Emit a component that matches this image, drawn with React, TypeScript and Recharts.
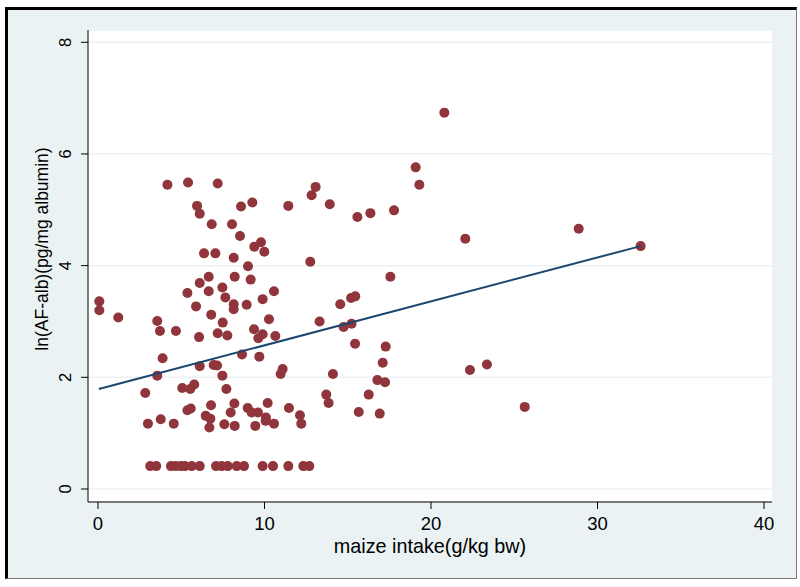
import { ScatterChart, Scatter, XAxis, YAxis, CartesianGrid } from "recharts"

// maize intake (g/kg bw)
const maizeIntake = [
  4.17, 5.41, 7.19, 5.95, 6.11, 8.59, 9.27, 11.43, 6.83, 8.05,
  8.53, 9.79, 9.39, 9.99, 6.37, 7.05, 8.15, 9.01, 6.65, 8.21,
  9.17, 6.11, 7.47, 6.65, 5.37, 10.57, 7.65, 9.89, 8.15, 8.15,
  8.93, 5.89, 0.08, 0.08, 1.22, 6.8, 10.27, 7.49, 3.56, 3.72,
  4.68, 6.07, 7.19, 7.77, 9.37, 9.89, 9.63, 10.65,
  3.88, 3.56, 6.11, 6.95, 7.15, 7.47, 8.65, 9.69, 10.97, 11.09,
  2.84, 5.06, 5.54, 5.78, 7.71, 6.79, 8.19, 10.19, 5.37, 5.57,
  3.77, 3.0, 4.55, 6.47, 6.75, 6.69, 7.97, 7.59, 8.21, 8.99,
  9.23, 9.61, 10.09, 10.07, 9.45, 10.57, 11.47,
  3.14, 3.5, 4.38, 4.67, 4.98, 5.23, 5.63, 6.11, 7.09, 7.43,
  7.79, 8.33, 8.77, 9.89, 10.51, 11.43, 12.33, 12.69,
  13.07, 12.83, 13.92, 15.58, 16.36, 17.78, 12.75, 17.56, 15.2, 15.45,
  14.55, 13.31, 14.75, 15.23, 15.44, 17.28, 17.1, 14.11, 16.78, 17.24,
  16.26, 13.71, 13.85, 15.66, 16.92, 12.13, 12.21,
  19.08, 19.3, 20.8, 22.06, 28.87, 32.59, 22.34, 23.36, 25.63,
]

// ln(AF-alb) (pg/mg albumin)
const lnAfAlb = [
  5.45, 5.49, 5.47, 5.07, 4.93, 5.06, 5.13, 5.07, 4.74, 4.74,
  4.53, 4.42, 4.34, 4.25, 4.22, 4.22, 4.14, 3.99, 3.8, 3.8,
  3.75, 3.69, 3.61, 3.54, 3.51, 3.54, 3.43, 3.4, 3.31, 3.22,
  3.3, 3.27, 3.36, 3.2, 3.07, 3.12, 3.04, 2.98, 3.01, 2.83,
  2.83, 2.72, 2.79, 2.75, 2.86, 2.77, 2.7, 2.74,
  2.34, 2.03, 2.2, 2.22, 2.21, 2.03, 2.41, 2.37, 2.06, 2.15,
  1.72, 1.81, 1.79, 1.87, 1.79, 1.5, 1.53, 1.54, 1.41, 1.44,
  1.25, 1.17, 1.17, 1.31, 1.26, 1.1, 1.37, 1.16, 1.13, 1.45,
  1.37, 1.37, 1.28, 1.22, 1.13, 1.17, 1.45,
  0.41, 0.41, 0.41, 0.41, 0.41, 0.41, 0.41, 0.41, 0.41, 0.41,
  0.41, 0.41, 0.41, 0.41, 0.41, 0.41, 0.41, 0.41,
  5.41, 5.26, 5.1, 4.87, 4.94, 4.99, 4.07, 3.8, 3.42, 3.45,
  3.31, 3.0, 2.9, 2.96, 2.6, 2.55, 2.26, 2.06, 1.95, 1.91,
  1.69, 1.69, 1.54, 1.38, 1.35, 1.32, 1.17,
  5.76, 5.45, 6.74, 4.48, 4.66, 4.35, 2.13, 2.23, 1.47,
]

// fitted line end points
const fitX = [0.05, 32.59]
const fitY = [1.79, 4.35]

const xTicks = [0, 10, 20, 30, 40]
const yTicks = [0, 2, 4, 6, 8]

const points = maizeIntake.map((x, i) => ({ x, y: lnAfAlb[i] }))
const fitLine = fitX.map((x, i) => ({ x, y: fitY[i] }))

const font = "'Liberation Sans', Arial, Helvetica, sans-serif"

const YTick = (props: any) => {
  const { y, payload } = props
  return (
    <text
      x={71}
      y={y}
      transform={`rotate(-90, 71, ${y})`}
      textAnchor="middle"
      fontFamily={font}
      fontSize={16.5}
      fill="#000"
    >
      {payload.value}
    </text>
  )
}

const XTick = (props: any) => {
  const { x, payload } = props
  return (
    <text x={x} y={530} textAnchor="middle" fontFamily={font} fontSize={18.5} fill="#000">
      {payload.value}
    </text>
  )
}

const XLabel = () => (
  <text x={430} y={553} textAnchor="middle" fontFamily={font} fontSize={19.8} fill="#000">
    maize intake(g/kg bw)
  </text>
)

const YLabel = () => (
  <text
    x={48}
    y={249}
    transform="rotate(-90, 48, 249)"
    textAnchor="middle"
    fontFamily={font}
    fontSize={17.5}
    fill="#000"
  >
    ln(AF-alb)(pg/mg albumin)
  </text>
)

export default function App() {
  return (
    <div style={{ position: "absolute", left: 0, top: 0, width: 800, height: 587, background: "#fff" }}>
      <div
        style={{
          position: "absolute",
          left: 5,
          top: 7,
          width: 788,
          height: 568,
          background: "#eaf2f3",
          borderTop: "3px solid #000",
          borderLeft: "3px solid #000",
          borderRight: "1px solid #777",
          borderBottom: "1px solid #777",
        }}
      />
      <div style={{ position: "absolute", left: 0, top: 0 }}>
        <ScatterChart width={800} height={587} margin={{ top: 30, right: 28, left: 28, bottom: 25 }}>
          <CartesianGrid vertical={false} stroke="#eaf2f3" strokeWidth={1.5} fill="#fff" />
          <XAxis
            type="number"
            dataKey="x"
            domain={[-0.6, 40.48]}
            ticks={xTicks}
            allowDataOverflow
            height={60}
            tickSize={7}
            stroke="#000"
            tick={<XTick />}
            label={<XLabel />}
          />
          <YAxis
            type="number"
            dataKey="y"
            domain={[-0.233, 8.22]}
            ticks={yTicks}
            allowDataOverflow
            width={60}
            tickSize={7}
            stroke="#000"
            tick={<YTick />}
            label={<YLabel />}
          />
          <Scatter
            data={points}
            fill="#90353b"
            isAnimationActive={false}
            shape={(p: any) => <circle cx={p.cx} cy={p.cy} r={5} fill="#90353b" />}
          />
          <Scatter
            data={fitLine}
            isAnimationActive={false}
            line={{ stroke: "#1a476f", strokeWidth: 2 }}
            shape={() => <g />}
          />
        </ScatterChart>
      </div>
    </div>
  )
}
